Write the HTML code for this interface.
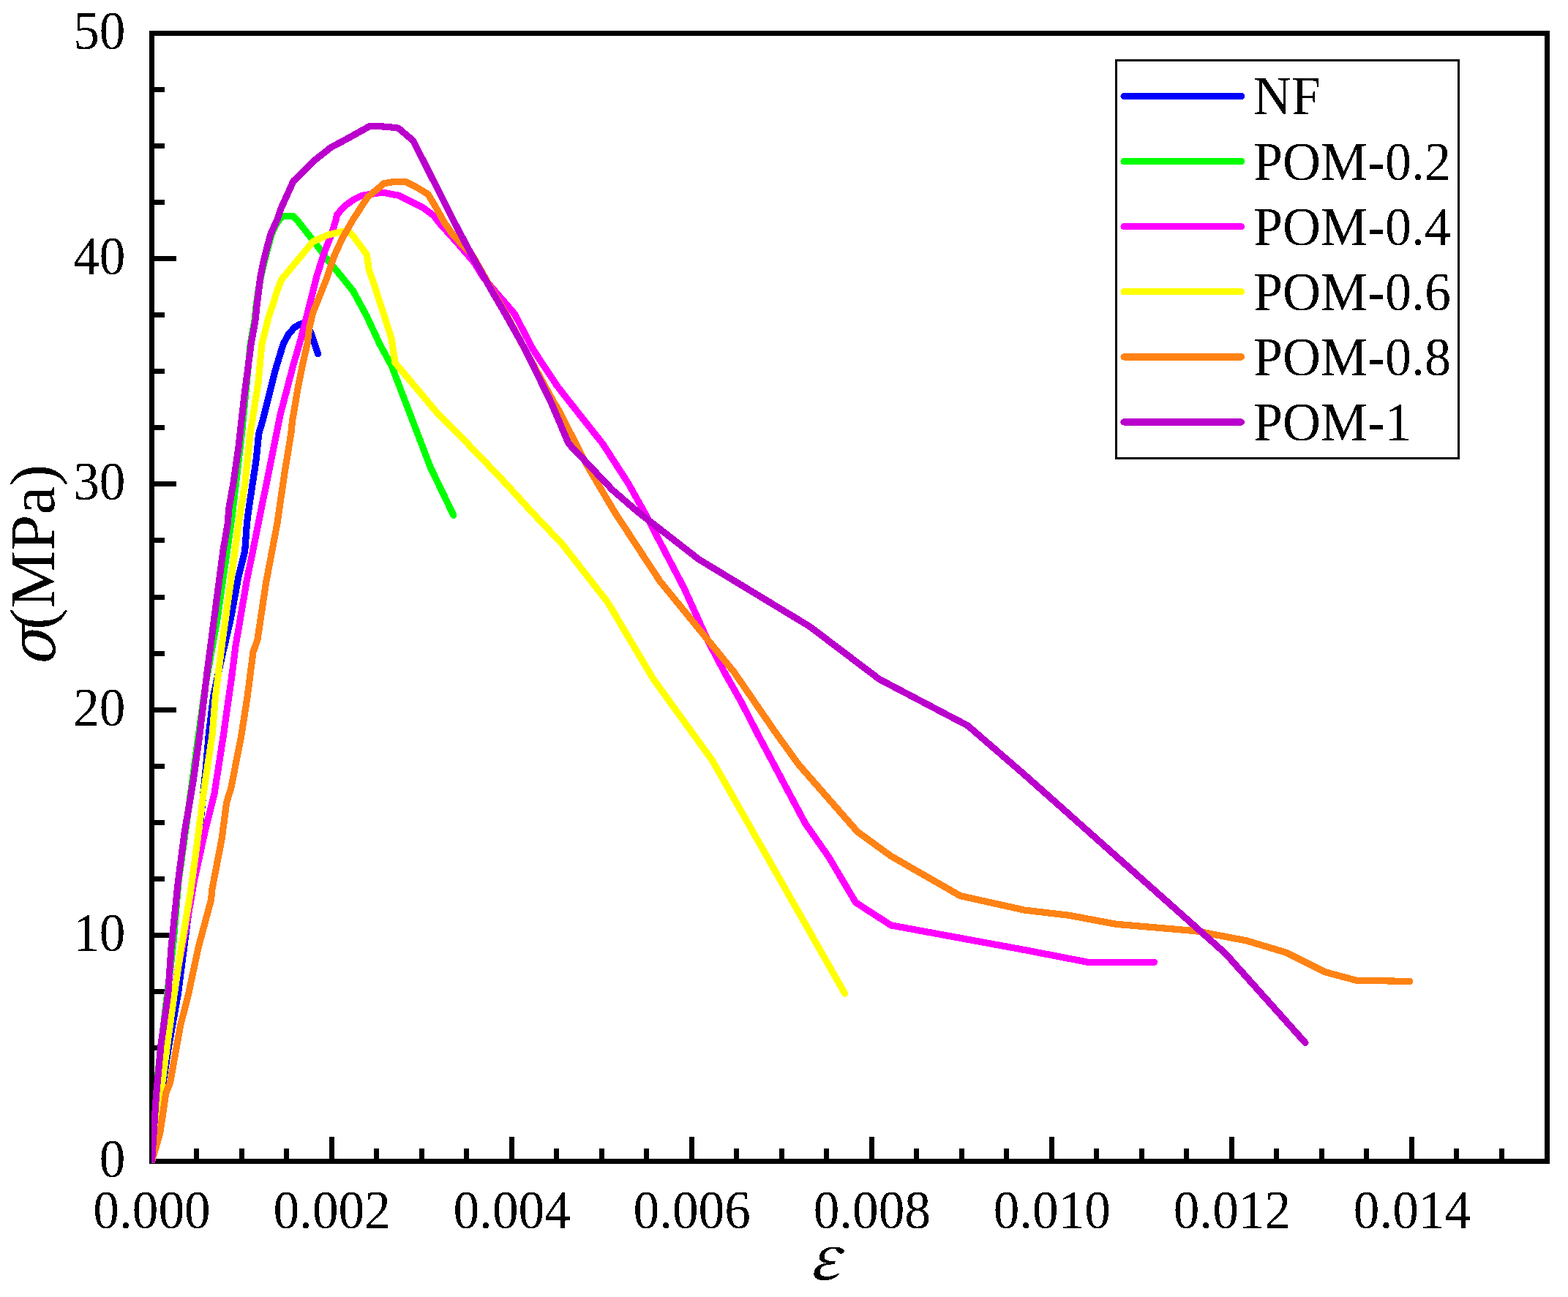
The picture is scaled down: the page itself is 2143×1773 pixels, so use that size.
<!DOCTYPE html>
<html lang="en"><head><meta charset="utf-8"><title>Stress-strain curves</title>
<style>html,body{margin:0;padding:0;background:#fff}body{width:2143px;height:1773px;overflow:hidden}svg{display:block}text{font-family:"Liberation Serif","Times New Roman",serif;fill:#000}</style></head><body>
<svg width="2143" height="1773" viewBox="0 0 2143 1773">
<rect width="2143" height="1773" fill="#fff"/>
<defs><filter id="bw" x="-5%" y="-5%" width="110%" height="110%" color-interpolation-filters="sRGB"><feComponentTransfer><feFuncA type="discrete" tableValues="0 1"/></feComponentTransfer></filter></defs>
<g shape-rendering="crispEdges" fill="#000">
<rect x="204" y="42" width="1914" height="7"/>
<rect x="204" y="1584" width="1914" height="7"/>
<rect x="204" y="42" width="7" height="1549"/>
<rect x="2111" y="42" width="7" height="1549"/>
<rect x="265.0" y="1570.0" width="7" height="15.0"/>
<rect x="327.0" y="1570.0" width="7" height="15.0"/>
<rect x="388.0" y="1570.0" width="7" height="15.0"/>
<rect x="450.0" y="1554.0" width="7" height="31.0"/>
<rect x="511.0" y="1570.0" width="7" height="15.0"/>
<rect x="573.0" y="1570.0" width="7" height="15.0"/>
<rect x="634.0" y="1570.0" width="7" height="15.0"/>
<rect x="696.0" y="1554.0" width="7" height="31.0"/>
<rect x="757.0" y="1570.0" width="7" height="15.0"/>
<rect x="819.0" y="1570.0" width="7" height="15.0"/>
<rect x="880.0" y="1570.0" width="7" height="15.0"/>
<rect x="942.0" y="1554.0" width="7" height="31.0"/>
<rect x="1003.0" y="1570.0" width="7" height="15.0"/>
<rect x="1065.0" y="1570.0" width="7" height="15.0"/>
<rect x="1126.0" y="1570.0" width="7" height="15.0"/>
<rect x="1188.0" y="1554.0" width="7" height="31.0"/>
<rect x="1249.0" y="1570.0" width="7" height="15.0"/>
<rect x="1311.0" y="1570.0" width="7" height="15.0"/>
<rect x="1372.0" y="1570.0" width="7" height="15.0"/>
<rect x="1434.0" y="1554.0" width="7" height="31.0"/>
<rect x="1495.0" y="1570.0" width="7" height="15.0"/>
<rect x="1557.0" y="1570.0" width="7" height="15.0"/>
<rect x="1618.0" y="1570.0" width="7" height="15.0"/>
<rect x="1680.0" y="1554.0" width="7" height="31.0"/>
<rect x="1741.0" y="1570.0" width="7" height="15.0"/>
<rect x="1803.0" y="1570.0" width="7" height="15.0"/>
<rect x="1864.0" y="1570.0" width="7" height="15.0"/>
<rect x="1926.0" y="1554.0" width="7" height="31.0"/>
<rect x="1987.0" y="1570.0" width="7" height="15.0"/>
<rect x="2049.0" y="1570.0" width="7" height="15.0"/>
<rect x="2111.0" y="1570.0" width="7" height="15.0"/>
<rect x="210" y="1506.0" width="15.0" height="7"/>
<rect x="210" y="1429.0" width="15.0" height="7"/>
<rect x="210" y="1352.0" width="15.0" height="7"/>
<rect x="210" y="1275.0" width="31.0" height="7"/>
<rect x="210" y="1198.0" width="15.0" height="7"/>
<rect x="210" y="1121.0" width="15.0" height="7"/>
<rect x="210" y="1044.0" width="15.0" height="7"/>
<rect x="210" y="967.0" width="31.0" height="7"/>
<rect x="210" y="890.0" width="15.0" height="7"/>
<rect x="210" y="813.0" width="15.0" height="7"/>
<rect x="210" y="735.0" width="15.0" height="7"/>
<rect x="210" y="658.0" width="31.0" height="7"/>
<rect x="210" y="581.0" width="15.0" height="7"/>
<rect x="210" y="504.0" width="15.0" height="7"/>
<rect x="210" y="427.0" width="15.0" height="7"/>
<rect x="210" y="350.0" width="31.0" height="7"/>
<rect x="210" y="273.0" width="15.0" height="7"/>
<rect x="210" y="196.0" width="15.0" height="7"/>
<rect x="210" y="119.0" width="15.0" height="7"/>
</g>
<g font-size="72">
<text filter="url(#bw)" transform="translate(207.5,1678.9) scale(0.99,1.038)" text-anchor="middle">0.000</text>
<text filter="url(#bw)" transform="translate(453.6,1678.9) scale(0.99,1.038)" text-anchor="middle">0.002</text>
<text filter="url(#bw)" transform="translate(699.6,1678.9) scale(0.99,1.038)" text-anchor="middle">0.004</text>
<text filter="url(#bw)" transform="translate(945.7,1678.9) scale(0.99,1.038)" text-anchor="middle">0.006</text>
<text filter="url(#bw)" transform="translate(1191.8,1678.9) scale(0.99,1.038)" text-anchor="middle">0.008</text>
<text filter="url(#bw)" transform="translate(1437.8,1678.9) scale(0.99,1.038)" text-anchor="middle">0.010</text>
<text filter="url(#bw)" transform="translate(1683.9,1678.9) scale(0.99,1.038)" text-anchor="middle">0.012</text>
<text filter="url(#bw)" transform="translate(1930.0,1678.9) scale(0.99,1.038)" text-anchor="middle">0.014</text>
<text filter="url(#bw)" transform="translate(171.5,1608.5) scale(0.99,1.038)" text-anchor="end">0</text>
<text filter="url(#bw)" transform="translate(171.5,1300.1) scale(0.99,1.038)" text-anchor="end">10</text>
<text filter="url(#bw)" transform="translate(171.5,991.7) scale(0.99,1.038)" text-anchor="end">20</text>
<text filter="url(#bw)" transform="translate(171.5,683.3) scale(0.99,1.038)" text-anchor="end">30</text>
<text filter="url(#bw)" transform="translate(171.5,374.9) scale(0.99,1.038)" text-anchor="end">40</text>
<text filter="url(#bw)" transform="translate(171.5,66.5) scale(0.99,1.038)" text-anchor="end">50</text>
</g>
<text filter="url(#bw)" x="1105.9" y="1749.1" font-size="83" style="font-family:'Noto Serif CJK SC','Liberation Serif',serif;font-style:italic;font-weight:500" text-anchor="start">ε</text>
<text filter="url(#bw)" transform="translate(74.9,914.5) rotate(-90) scale(0.917,0.974) skewX(-14)" font-size="88" style="font-family:'DejaVu Math TeX Gyre','Liberation Serif',serif" text-anchor="start">σ</text>
<text filter="url(#bw)" transform="translate(73.7,860.8) rotate(-90) scale(1.005,0.993)" font-size="88" text-anchor="start">(MPa)</text>
<defs><clipPath id="plot"><rect x="207" y="46" width="1908" height="1543.5"/></clipPath></defs>
<g clip-path="url(#plot)" shape-rendering="crispEdges" fill="none" stroke-width="9.2" stroke-linejoin="round" stroke-linecap="round">
<polyline stroke="#0000ff" points="207.5,1587.5 223.0,1480.0 231.0,1428.0 243.3,1359.0 251.6,1295.0 274.3,1121.0 281.2,1051.8 285.2,1005.0 291.6,951.8 302.8,900.0 314.9,848.0 326.1,787.7 334.7,753.0 337.5,715.0 339.9,696.4 350.3,627.3 353.7,592.7 358.9,575.5 376.2,506.4 387.2,470.0 394.6,456.6 402.4,447.7 409.3,443.3 415.1,441.9 420.0,446.0 425.5,456.6 430.0,470.0 434.5,483.5"/>
<polyline stroke="#00ff00" points="207.5,1587.5 216.3,1463.0 236.8,1290.0 243.7,1207.0 262.7,1069.0 271.3,1005.0 281.2,934.6 296.7,848.0 316.6,710.0 318.3,696.4 330.4,592.7 342.3,470.0 348.2,437.0 350.2,417.4 353.0,397.8 356.5,378.3 361.0,358.7 366.0,339.1 371.5,319.6 377.1,307.2 384.5,297.0 388.5,295.3 400.2,295.3 405.3,300.0 427.8,328.4 447.4,354.8 467.0,378.3 482.6,397.8 501.2,432.1 518.8,470.0 535.3,500.4 588.2,638.6 619.8,704.3"/>
<polyline stroke="#ff00ff" points="207.5,1587.5 235.4,1376.0 243.2,1324.5 256.1,1259.0 264.8,1207.0 279.8,1138.0 292.8,1086.0 305.4,1005.0 317.8,917.0 322.1,882.7 336.8,796.4 353.2,715.0 371.0,627.3 383.1,566.8 401.2,497.7 409.3,470.0 418.1,437.0 427.8,397.8 432.7,378.3 442.5,347.0 453.3,319.6 459.2,300.0 460.6,293.2 471.9,281.1 482.6,273.3 494.4,267.4 515.9,264.0 524.6,263.4 545.3,267.3 578.3,284.0 592.9,294.8 600.2,304.5 623.1,330.0 648.0,358.7 661.0,380.0 703.2,428.9 728.6,477.8 760.9,526.8 779.8,551.1 824.0,607.0 859.0,661.3 882.1,702.8 909.7,755.8 935.0,804.1 967.3,875.5 990.3,919.3 1013.3,960.0 1033.7,1000.0 1100.5,1125.5 1132.7,1171.6 1169.6,1233.8 1217.9,1264.9 1400.0,1298.5 1486.7,1315.3 1577.5,1315.3"/>
<polyline stroke="#ffff00" points="207.5,1587.5 228.7,1428.0 238.2,1359.0 247.8,1295.0 259.6,1224.6 269.1,1155.5 277.9,1086.0 290.0,1005.0 294.5,951.8 303.1,882.7 315.2,796.4 326.3,715.0 334.7,661.8 342.0,592.7 352.9,523.6 357.9,470.0 366.2,437.0 378.8,397.8 384.5,382.5 398.5,365.6 413.2,347.9 427.8,330.3 447.4,321.5 468.9,316.1 476.2,316.3 482.6,322.5 501.2,347.9 504.2,368.5 511.0,388.1 530.0,446.8 535.3,463.6 539.9,495.8 599.8,567.2 648.1,615.6 691.9,661.6 726.9,700.0 768.4,743.8 830.5,823.2 892.7,928.0 973.5,1039.5 1154.6,1358.1"/>
<polyline stroke="#ff8214" points="207.5,1587.5 218.7,1549.0 226.8,1494.0 232.5,1480.0 246.6,1402.0 257.5,1359.0 271.2,1295.0 288.6,1229.7 289.8,1216.0 303.1,1146.8 309.7,1096.7 315.7,1077.7 329.9,1005.0 338.2,951.8 346.0,891.4 352.0,874.0 363.6,796.4 379.0,715.0 389.2,644.6 397.8,592.7 399.5,575.5 406.8,532.3 413.7,497.7 420.0,470.0 423.0,446.8 427.8,427.2 437.6,402.7 447.4,378.3 457.2,348.9 467.0,327.4 482.6,300.0 502.1,269.9 524.6,250.9 538.4,248.3 553.9,248.3 568.5,255.5 585.1,265.5 597.8,287.0 607.6,304.6 618.4,320.0 632.0,335.0 646.0,349.5 673.3,397.8 691.5,428.9 717.5,477.8 757.0,550.0 763.3,560.3 802.4,636.3 825.5,675.5 840.0,700.0 901.9,794.4 1003.3,918.8 1059.0,1000.0 1091.3,1044.9 1171.9,1137.0 1217.9,1170.4 1312.4,1224.6 1400.0,1244.1 1461.3,1251.3 1525.3,1263.3 1634.7,1272.7 1704.0,1286.0 1757.3,1302.0 1810.7,1328.7 1853.3,1340.1 1926.6,1341.5"/>
<polyline stroke="#ba00cc" points="207.5,1587.5 213.5,1497.0 220.0,1428.0 229.7,1359.0 234.0,1296.0 243.2,1207.0 252.2,1138.0 263.9,1069.0 272.8,1005.0 283.3,917.0 292.4,848.0 304.9,753.0 311.4,715.0 312.6,696.4 318.7,661.8 326.1,610.0 333.9,540.9 343.2,470.0 349.1,437.0 351.0,417.4 353.5,397.8 355.9,378.3 359.8,358.7 364.7,339.1 370.0,319.6 378.9,300.0 384.6,283.7 401.0,247.5 431.3,218.1 452.0,201.7 476.8,188.4 505.6,172.3 515.5,172.3 541.8,174.6 545.0,175.6 564.5,192.2 597.8,257.6 618.9,300.0 644.8,348.9 672.3,397.8 690.5,428.9 717.8,477.8 753.1,550.0 777.1,606.4 837.0,669.7 872.0,700.0 954.9,764.5 1106.9,856.6 1201.8,928.5 1322.7,992.0 1400.0,1058.8 1674.7,1303.3 1784.0,1425.5"/>
</g>
<rect x="1525.5" y="82.5" width="468" height="544" fill="#fff" stroke="#000" stroke-width="3" shape-rendering="crispEdges"/>
<g font-size="72">
<line x1="1536" y1="131.5" x2="1696.5" y2="131.5" stroke="#0000ff" stroke-width="9.2" stroke-linecap="round" shape-rendering="crispEdges"/>
<text filter="url(#bw)" transform="translate(1713,156.4) scale(1,1.025)">NF</text>
<line x1="1536" y1="220.6" x2="1696.5" y2="220.6" stroke="#00ff00" stroke-width="9.2" stroke-linecap="round" shape-rendering="crispEdges"/>
<text filter="url(#bw)" transform="translate(1713,245.5) scale(1,1.025)">POM-0.2</text>
<line x1="1536" y1="309.7" x2="1696.5" y2="309.7" stroke="#ff00ff" stroke-width="9.2" stroke-linecap="round" shape-rendering="crispEdges"/>
<text filter="url(#bw)" transform="translate(1713,334.6) scale(1,1.025)">POM-0.4</text>
<line x1="1536" y1="398.8" x2="1696.5" y2="398.8" stroke="#ffff00" stroke-width="9.2" stroke-linecap="round" shape-rendering="crispEdges"/>
<text filter="url(#bw)" transform="translate(1713,423.7) scale(1,1.025)">POM-0.6</text>
<line x1="1536" y1="487.9" x2="1696.5" y2="487.9" stroke="#ff8214" stroke-width="9.2" stroke-linecap="round" shape-rendering="crispEdges"/>
<text filter="url(#bw)" transform="translate(1713,512.8) scale(1,1.025)">POM-0.8</text>
<line x1="1536" y1="577.0" x2="1696.5" y2="577.0" stroke="#ba00cc" stroke-width="9.2" stroke-linecap="round" shape-rendering="crispEdges"/>
<text filter="url(#bw)" transform="translate(1713,601.9) scale(1,1.025)">POM-1</text>
</g>
</svg></body></html>
